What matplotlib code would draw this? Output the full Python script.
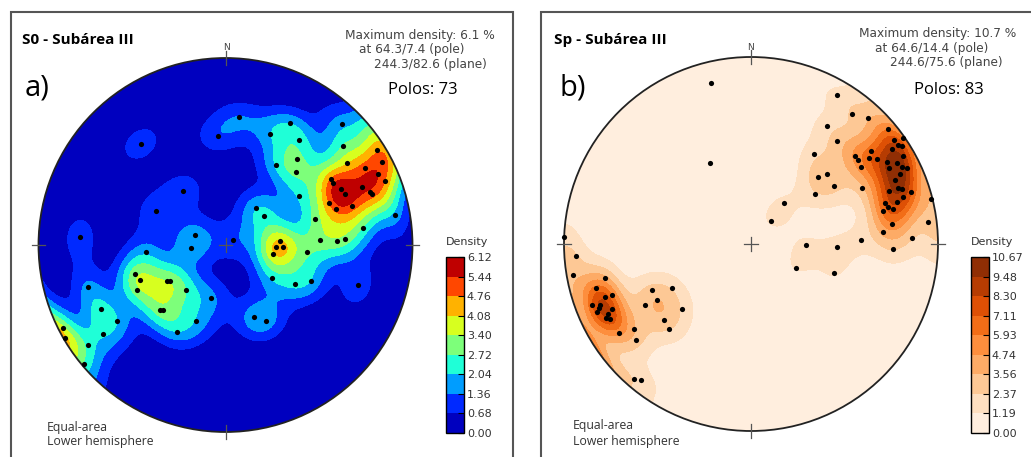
import numpy as np
import matplotlib
matplotlib.use("Agg")
import matplotlib.pyplot as plt
from matplotlib.patches import Circle, Rectangle

# Poles to S0 (panel a): trend / plunge in degrees
s0_trend = [6, 356, 320, 28, 44, 22, 35, 50, 58, 40, 32, 56, 61, 62, 65, 68, 44, 58, 60, 64,
            67, 67, 70, 71, 56, 322, 68, 72, 73, 80, 40, 53, 296, 74, 83, 273, 288, 265, 60, 86,
            92, 92, 101, 87, 88, 87, 95, 265, 252, 248, 238, 237, 243, 221, 253, 125, 119, 113, 107, 195,
            225, 224, 243, 235, 201, 209, 234, 158, 152, 243, 240, 234, 230]
s0_plunge = [32, 41, 30, 27, 11, 36, 32, 19, 5, 40, 48, 23, 16, 6, 11, 9, 45, 34, 34, 32,
             31, 22, 19, 18, 51, 60, 40, 38, 30, 9, 69, 69, 56, 49, 27, 23, 76, 75, 86, 66,
             65, 68, 69, 48, 40, 36, 54, 55, 48, 49, 60, 61, 46, 64, 24, 65, 55, 49, 27, 66,
             49, 50, 26, 30, 54, 46, 20, 56, 52, 3, 1, 10, 1]

# Poles to Sp (panel b)
sp_trend = [346, 333, 272,
            30, 38, 43, 33, 50, 40, 54, 55, 56, 57, 56, 52, 35, 50, 52, 54, 56, 59, 61, 61,
            55, 65, 45, 47, 55, 52, 63, 69, 69, 70, 72, 76, 39, 73, 75, 76, 73, 74, 76, 41,
            82, 83, 85, 88, 88, 91, 92, 92, 118, 109,
            266, 260, 257, 254, 250, 249, 248, 245, 246, 243, 242, 236, 234, 230, 245, 241, 239, 240,
            227, 229, 224, 221, 219,
            60, 64, 66, 63, 247, 244, 250]
sp_plunge = [12, 50, 0,
             9, 13, 9, 26, 5, 29, 6, 1, 6, 4, 10, 20, 41, 28, 28, 23, 20, 16, 12, 17,
             29, 13, 48, 44, 45, 54, 34, 22, 17, 15, 11, 1, 67, 26, 25, 23, 16, 20, 28, 77,
             25, 5, 30, 15, 41, 66, 52, 25, 68, 51,
             7, 4, 21, 15, 22, 10, 14, 19, 11, 14, 16, 16, 24, 21, 41, 50, 41, 35, 48, 38,
             37, 5, 7,
             7, 8, 17, 10, 13, 16, 18]

s0_max_density = 6.12
sp_max_density = 10.67
s0_stats = ['Maximum density: 6.1 %', 'at 64.3/7.4 (pole)', '244.3/82.6 (plane)']
sp_stats = ['Maximum density: 10.7 %', 'at 64.6/14.4 (pole)', '244.6/75.6 (plane)']

W, H = 1031, 457
fig = plt.figure(figsize=(W / 100, H / 100), dpi=100)


def unit(trend, plunge):
    t = np.radians(trend)
    p = np.radians(plunge)
    return np.stack([np.cos(p) * np.sin(t), np.cos(p) * np.cos(t), np.sin(p)], -1)


def project(trend, plunge):
    """Lambert equal-area, lower hemisphere."""
    t = np.radians(np.asarray(trend, float))
    p = np.radians(np.asarray(plunge, float))
    r = np.sqrt(2) * np.sin((np.pi / 2 - p) / 2)
    return r * np.sin(t), r * np.cos(t)


def fisher_density(trend, plunge, k=70, n=241):
    g = np.linspace(-1.08, 1.08, n)
    X, Y = np.meshgrid(g, g)
    r = np.clip(np.hypot(X, Y), 0, 1)
    gp = 90 - 2 * np.degrees(np.arcsin(r / np.sqrt(2)))
    gt = np.degrees(np.arctan2(X, Y))
    G = unit(gt, gp)
    V = unit(np.asarray(trend, float), np.asarray(plunge, float))
    c = np.abs(G @ V.T)
    D = k * np.exp(k * (c - 1)).mean(-1)
    return X, Y, D


def net(cx, cy, R, trend, plunge, top, cmap, cbx):
    f = 1.08
    ax = fig.add_axes([(cx - R * f) / W, (H - cy - R * f) / H, 2 * R * f / W, 2 * R * f / H])
    X, Y, D = fisher_density(trend, plunge)
    D = D * top / D.max()
    levels = np.linspace(0, top, 10)
    cs = ax.contourf(X, Y, D, levels=levels, cmap=cmap)
    cs.set_clip_path(Circle((0, 0), 1, transform=ax.transData))
    ax.add_patch(Circle((0, 0), 1, fill=False, lw=1.3, ec='#222222', zorder=4))
    x, y = project(trend, plunge)
    ax.scatter(x, y, s=14, c='k', zorder=5, linewidths=0)
    for ang in (0, 90, 180, 270):
        s, c = np.sin(np.radians(ang)), np.cos(np.radians(ang))
        ax.plot([0.965 * s, 1.035 * s], [0.965 * c, 1.035 * c], color='#555555',
                lw=0.9, zorder=6, clip_on=False)
    ax.plot([-0.035, 0.035], [0, 0], color='#555555', lw=0.9, zorder=6)
    ax.plot([0, 0], [-0.035, 0.035], color='#555555', lw=0.9, zorder=6)
    ax.set_xlim(-f, f)
    ax.set_ylim(-f, f)
    ax.axis('off')
    cax = fig.add_axes([cbx / W, (H - 433) / H, 18 / W, 176 / H])
    cb = fig.colorbar(cs, cax=cax, ticks=levels, format='%.2f')
    cb.ax.tick_params(direction='in', length=4, labelsize=8, pad=2, labelcolor='#333333')
    cb.outline.set_linewidth(1.0)
    return ax


net(225.5, 245, 187, s0_trend, s0_plunge, s0_max_density, 'jet', 446)
net(751, 244, 187, sp_trend, sp_plunge, sp_max_density, 'Oranges', 971)


def t(x, y, s, **kw):
    fig.text(x / W, 1 - y / H, s, va='center', ha='left', **kw)


# panel a annotations
t(22, 40, 'S0 - Subárea III', fontweight='bold', family='Open Sans', fontsize=11)
t(25, 88, 'a)', family='Open Sans', fontsize=21)
for (x, y), line in zip([(345, 35.5), (359.3, 50), (374.3, 64.3)], s0_stats):
    t(x, y, line, fontsize=8.7, color='#444444')
t(388.3, 90.5, f'Polos: {len(s0_trend)}', family='Open Sans', fontsize=12)
t(47, 427, 'Equal-area', family='Open Sans', fontsize=8.8, color='#333333')
t(47, 441, 'Lower hemisphere', family='Open Sans', fontsize=8.8, color='#333333')
t(446, 242, 'Density', fontsize=8, color='#333333')
fig.text(227 / W, 1 - 48 / H, 'N', fontsize=6.5, color='#444444', ha='center', va='center')

# panel b annotations
t(554, 40, 'Sp - Subárea III', fontweight='bold', family='Open Sans', fontsize=11)
t(559, 88, 'b)', family='Open Sans', fontsize=21)
for (x, y), line in zip([(859.3, 33.5), (875, 48.3), (890, 62.7)], sp_stats):
    t(x, y, line, fontsize=8.7, color='#444444')
t(914.3, 90, f'Polos: {len(sp_trend)}', family='Open Sans', fontsize=12)
t(572.7, 426, 'Equal-area', family='Open Sans', fontsize=8.8, color='#333333')
t(572.7, 441, 'Lower hemisphere', family='Open Sans', fontsize=8.8, color='#333333')
t(971, 242, 'Density', fontsize=8, color='#333333')
fig.text(751 / W, 1 - 47 / H, 'N', fontsize=6.5, color='#444444', ha='center', va='center')

# panel frames
fig.add_artist(Rectangle((11 / W, -0.1), 502 / W, (1 - 12 / H) + 0.1, transform=fig.transFigure,
                         fill=False, ec='#555555', lw=1.5))
fig.add_artist(Rectangle((541 / W, -0.1), 0.6, (1 - 12 / H) + 0.1, transform=fig.transFigure,
                         fill=False, ec='#555555', lw=1.5))

fig.savefig('out.png', dpi=100)
